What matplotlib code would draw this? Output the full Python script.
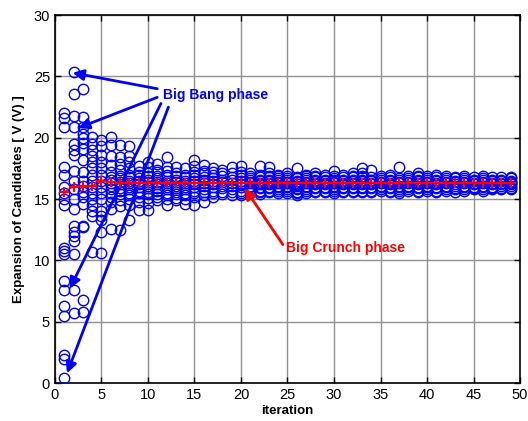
import matplotlib
matplotlib.use("Agg")
import matplotlib.pyplot as plt

plt.rcParams['font.family'] = ['Liberation Sans', 'DejaVu Sans']

# Candidate values per iteration (iteration 1..49)
early_candidates = [
    [0.4, 2.0, 2.3, 5.5, 6.3, 7.6, 8.3, 10.5, 10.8, 11.0, 14.5, 15.0, 15.5, 16.0, 17.0, 17.6, 20.9, 21.6, 22.0],
    [5.7, 7.6, 10.5, 11.6, 12.0, 12.3, 12.8, 14.2, 15.0, 15.8, 16.5, 17.3, 18.6, 19.0, 19.5, 20.9, 21.8, 23.6, 25.4],
    [5.8, 6.8, 12.7, 12.8, 14.6, 15.2, 15.6, 16.1, 16.5, 17.2, 18.2, 19.1, 19.6, 20.0, 20.3, 20.9, 21.7, 24.0],
    [10.7, 13.6, 14.0, 14.5, 15.0, 15.5, 16.0, 16.5, 17.0, 17.5, 18.0, 18.5, 19.0, 19.5, 20.1],
    [10.6, 12.3, 13.3, 13.6, 14.0, 15.0, 15.5, 16.0, 16.5, 17.0, 17.5, 18.0, 18.6, 19.3, 19.8],
    [12.6, 14.2, 14.8, 15.2, 15.5, 15.8, 16.1, 16.3, 16.6, 16.8, 17.2, 17.8, 18.5, 19.4, 20.1],
    [12.5, 14.4, 14.9, 15.4, 15.7, 15.9, 16.2, 16.4, 16.7, 16.9, 17.4, 17.9, 18.4, 19.4],
    [13.3, 14.5, 15.0, 15.3, 15.5, 15.8, 16.0, 16.3, 16.5, 16.8, 17.0, 17.5, 18.0, 18.5, 19.3],
    [14.1, 14.8, 15.2, 15.5, 15.7, 16.0, 16.2, 16.5, 16.7, 17.0, 17.2, 17.7],
    [14.1, 14.7, 15.1, 15.4, 15.6, 15.9, 16.1, 16.4, 16.6, 16.9, 17.1, 17.6, 18.0],
]
mid_candidates = [
    [14.9, 15.2, 15.4, 15.7, 15.9, 16.2, 16.4, 16.7, 16.9, 17.2, 17.4, 17.9],
    [14.5, 15.0, 15.3, 15.5, 15.8, 16.0, 16.3, 16.5, 16.8, 17.0, 17.3, 17.6, 18.4],
    [14.9, 15.1, 15.4, 15.6, 15.9, 16.1, 16.4, 16.6, 16.9, 17.1, 17.6],
    [14.6, 15.0, 15.3, 15.5, 15.8, 16.0, 16.3, 16.5, 16.8, 17.0, 17.5],
    [14.5, 15.2, 15.5, 15.7, 16.0, 16.2, 16.5, 16.7, 17.0, 17.2, 17.7, 18.2],
    [14.8, 15.3, 15.6, 15.8, 16.1, 16.3, 16.6, 16.8, 17.1, 17.3, 17.8],
    [15.2, 15.5, 15.7, 16.0, 16.2, 16.5, 16.7, 17.0, 17.2, 17.5],
    [15.4, 15.6, 15.9, 16.1, 16.4, 16.6, 16.9, 17.1, 17.4],
    [15.3, 15.6, 15.8, 16.1, 16.3, 16.6, 16.8, 17.1, 17.6],
    [15.3, 15.5, 15.7, 16.0, 16.2, 16.5, 16.7, 17.0, 17.2, 17.7],
]
late_candidates = [
    [15.5, 15.7, 15.8, 16.0, 16.1, 16.3, 16.4, 16.6, 16.7, 16.9, 17.1],
    [15.4, 15.6, 15.7, 15.9, 16.0, 16.2, 16.3, 16.5, 16.6, 16.8, 17.0, 17.7],
    [15.6, 15.7, 15.9, 16.0, 16.2, 16.3, 16.5, 16.6, 16.8, 16.9, 17.1, 17.6],
    [15.5, 15.7, 15.8, 16.0, 16.1, 16.3, 16.4, 16.6, 16.7, 16.9, 17.0],
    [15.5, 15.7, 15.8, 16.0, 16.1, 16.3, 16.4, 16.6, 16.7, 16.9, 17.1],
    [15.3, 15.5, 15.6, 15.8, 15.9, 16.1, 16.2, 16.4, 16.5, 16.7, 16.8, 17.5],
    [15.5, 15.7, 15.8, 16.0, 16.1, 16.3, 16.4, 16.6, 16.7, 16.9, 17.0],
    [15.6, 15.7, 15.9, 16.0, 16.2, 16.3, 16.5, 16.6, 16.8, 16.9, 17.1],
    [15.6, 15.7, 15.9, 16.0, 16.2, 16.3, 16.5, 16.6, 16.8, 17.0],
    [15.5, 15.7, 15.8, 16.0, 16.1, 16.3, 16.4, 16.6, 16.7, 16.9, 17.3],
    [15.6, 15.7, 15.9, 16.0, 16.2, 16.3, 16.5, 16.6, 16.8, 17.0],
    [15.6, 15.7, 15.9, 16.0, 16.2, 16.3, 16.5, 16.6, 16.8, 16.9, 17.1],
    [15.6, 15.7, 15.9, 16.0, 16.2, 16.3, 16.5, 16.6, 16.8, 16.9, 17.1, 17.5],
    [15.6, 15.7, 15.9, 16.0, 16.2, 16.3, 16.5, 16.6, 16.8, 17.4],
    [15.7, 15.8, 16.0, 16.1, 16.3, 16.4, 16.6, 16.7, 16.9],
    [15.6, 15.7, 15.9, 16.0, 16.2, 16.3, 16.5, 16.6, 16.8, 17.0],
    [15.5, 15.7, 15.8, 16.0, 16.1, 16.3, 16.4, 16.6, 16.7, 17.6],
    [15.7, 15.8, 16.0, 16.1, 16.3, 16.4, 16.6, 16.7, 16.9],
    [15.6, 15.7, 15.9, 16.0, 16.2, 16.3, 16.5, 16.6, 16.8, 16.9, 17.1],
    [15.7, 15.8, 16.0, 16.1, 16.3, 16.4, 16.6, 16.7, 16.9],
    [15.6, 15.7, 15.9, 16.0, 16.2, 16.3, 16.5, 16.6, 16.8, 17.0],
    [15.7, 15.8, 16.0, 16.1, 16.3, 16.4, 16.6, 16.7, 16.9],
    [15.6, 15.8, 15.9, 16.1, 16.2, 16.4, 16.5, 16.7, 16.8],
    [15.7, 15.8, 16.0, 16.1, 16.3, 16.4, 16.6, 16.7, 16.9],
    [15.8, 15.9, 16.0, 16.2, 16.3, 16.5, 16.6, 16.8],
    [15.7, 15.8, 16.0, 16.1, 16.3, 16.4, 16.6, 16.7, 16.9],
    [15.8, 15.9, 16.0, 16.2, 16.3, 16.5, 16.6, 16.8],
    [15.8, 15.9, 16.1, 16.2, 16.3, 16.5, 16.6, 16.8],
    [15.8, 15.9, 16.1, 16.2, 16.3, 16.4, 16.5, 16.7, 16.8],
]

# Centre of mass (Big Crunch) per iteration
center_of_mass = [15.6, 16.0, 16.1, 16.1, 16.5, 16.4, 16.3, 16.3, 16.3, 16.3,
                  16.3, 16.3, 16.3, 16.3, 16.3, 16.3, 16.3, 16.3, 16.3, 16.3,
                  16.3, 16.3, 16.3, 16.3, 16.3, 16.3, 16.3, 16.3, 16.3, 16.3,
                  16.3, 16.3, 16.3, 16.3, 16.3, 16.3, 16.3, 16.3, 16.3, 16.3,
                  16.3, 16.3, 16.3, 16.3, 16.3, 16.3, 16.3, 16.3, 16.3]

all_candidates = early_candidates + mid_candidates + late_candidates
xs, ys = [], []
for i, vals in enumerate(all_candidates, start=1):
    xs.extend([i] * len(vals))
    ys.extend(vals)
iters = list(range(1, len(center_of_mass) + 1))

fig = plt.figure(figsize=(5.28, 4.21), dpi=100)
ax = fig.add_axes([0.104, 0.090, 0.881, 0.874])

ax.plot(xs, ys, 'o', mfc='none', mec='#0000ff', ms=7.5, mew=1.0, zorder=3)
ax.plot(iters, center_of_mass, '--', color='#ff0000', lw=0.8, zorder=4)
ax.plot(iters, center_of_mass, '+', color='#ff0000', ms=7, mew=1.6, zorder=5)

ax.set_xlim(0, 50)
ax.set_ylim(0, 30)
ax.set_xticks(range(0, 51, 5))
ax.set_yticks(range(0, 31, 5))
ax.grid(True, color='#909090', lw=1.0, zorder=0)
ax.set_axisbelow(True)
ax.tick_params(direction='in', top=True, right=True, labelsize=10.5, length=4, width=1)
for s in ax.spines.values():
    s.set_linewidth(1.2)

ax.set_xlabel('iteration', fontsize=9.5, fontweight='bold', labelpad=2)
ax.set_ylabel('Expansion of Candidates [ V (V) ]', fontsize=9.5, fontweight='bold', labelpad=6)

blue_props = dict(arrowstyle='-|>', color='#0000ff', lw=2.0, mutation_scale=16, shrinkA=0, shrinkB=0)
ax.text(11.6, 23.5, 'Big Bang phase', color='#0000ff', fontsize=10, fontweight='bold', va='center', ha='left')
ax.annotate('', xy=(1.9, 25.3), xytext=(11.0, 24.0), arrowprops=blue_props)
ax.annotate('', xy=(2.5, 20.8), xytext=(11.0, 23.3), arrowprops=blue_props)
ax.annotate('', xy=(1.6, 7.7), xytext=(11.4, 22.8), arrowprops=blue_props)
ax.annotate('', xy=(1.3, 0.8), xytext=(12.2, 22.5), arrowprops=blue_props)

red_props = dict(arrowstyle='-|>', color='#ff0000', lw=2.0, mutation_scale=16, shrinkA=0, shrinkB=0)
ax.text(24.8, 11.0, 'Big Crunch phase', color='#ff0000', fontsize=10, fontweight='bold', va='center', ha='left')
ax.annotate('', xy=(20.4, 15.9), xytext=(24.5, 11.3), arrowprops=red_props)

fig.savefig('out.png', dpi=100)
